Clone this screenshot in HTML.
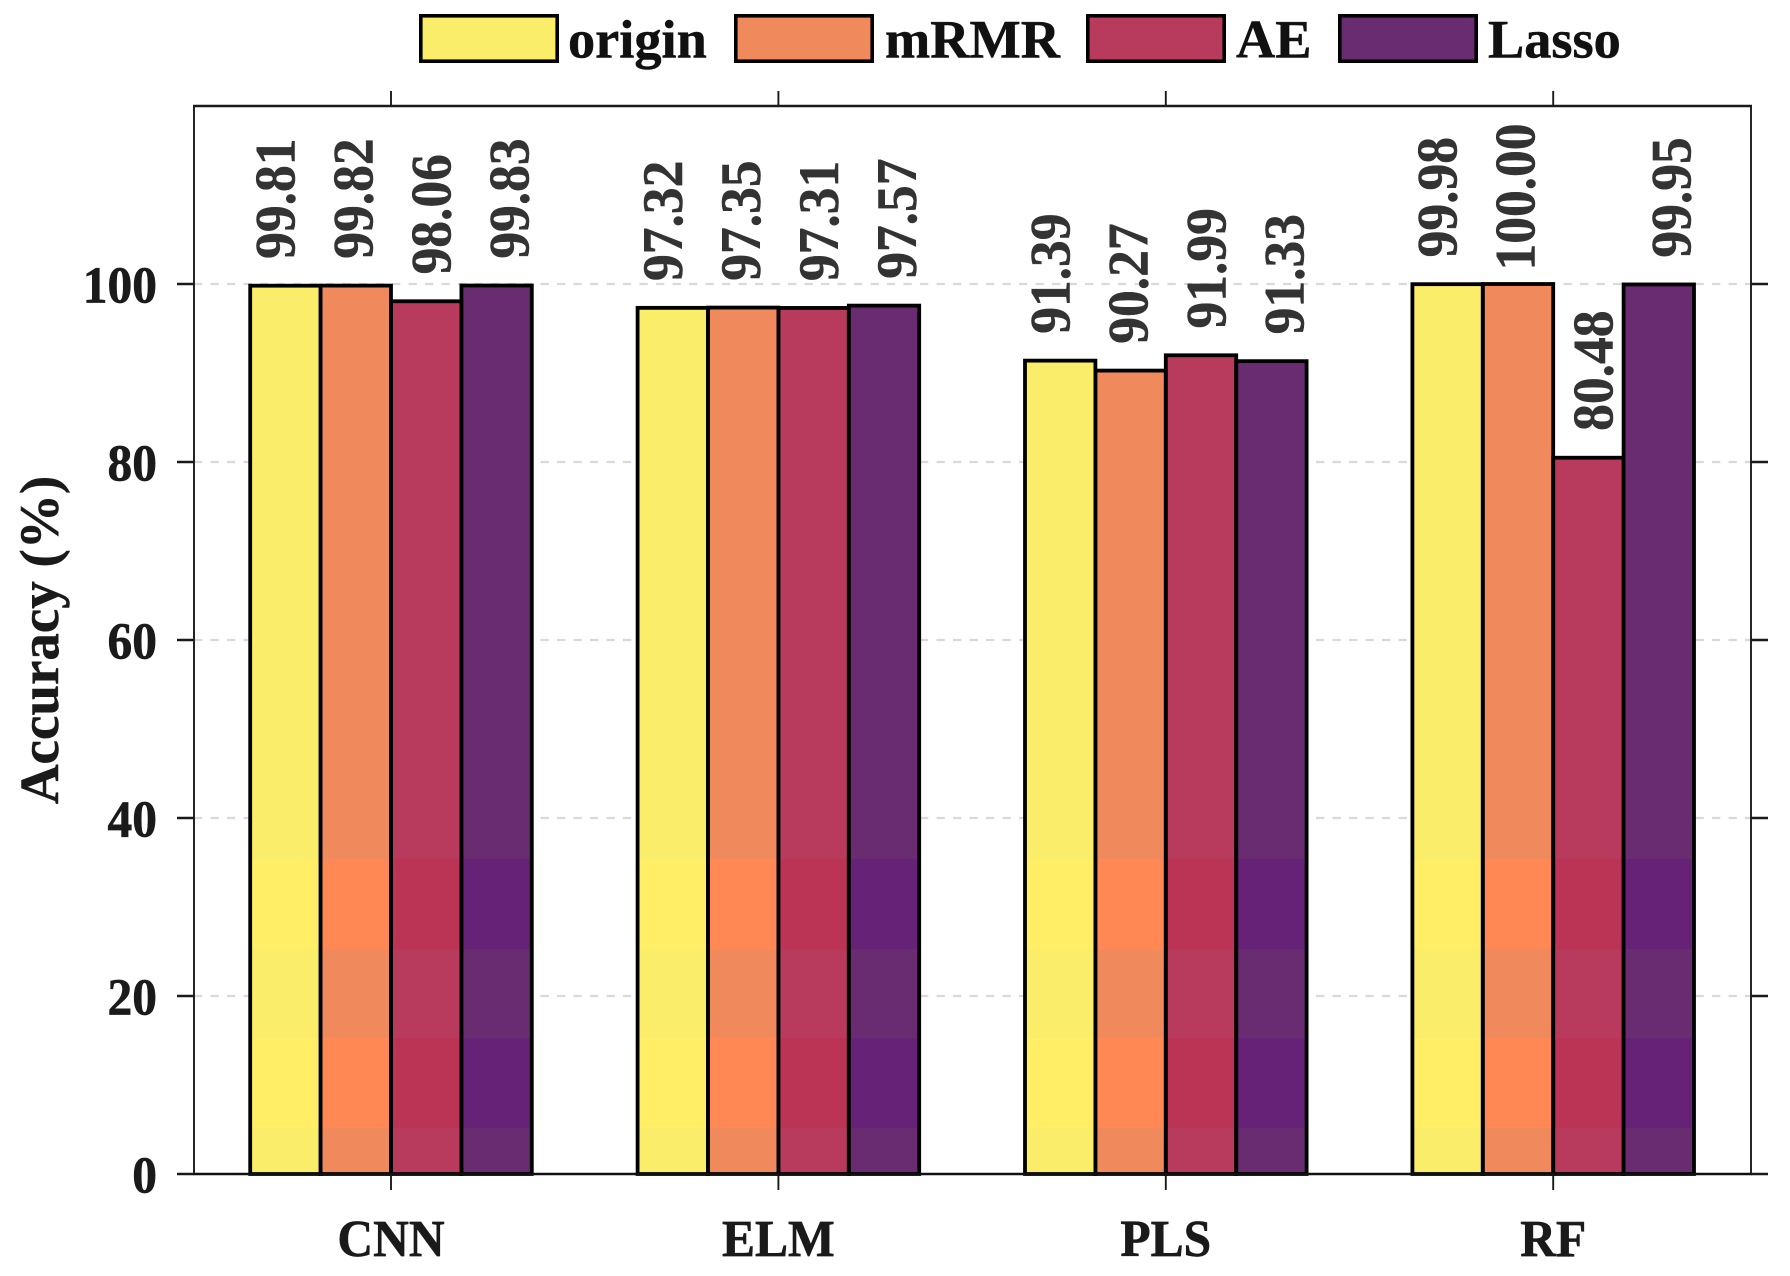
<!DOCTYPE html>
<html lang="en">
<head>
<meta charset="utf-8">
<title>Accuracy bar chart</title>
<style>
html,body{margin:0;padding:0;background:#fff;}
body{width:1790px;height:1276px;overflow:hidden;}
svg{display:block;}
text{font-family:"Liberation Serif",serif;font-weight:bold;}
</style>
</head>
<body>
<svg id="chart" xmlns="http://www.w3.org/2000/svg" width="1790" height="1276" viewBox="0 0 1790 1276"></svg>
<script>
const categories = ["CNN", "ELM", "PLS", "RF"];
const seriesNames = ["origin", "mRMR", "AE", "Lasso"];
const originValues = [99.81, 97.32, 91.39, 99.98];
const mrmrValues = [99.82, 97.35, 90.27, 100.00];
const aeValues = [98.06, 97.31, 91.99, 80.48];
const lassoValues = [99.83, 97.57, 91.33, 99.95];
const yTicks = [0, 20, 40, 60, 80, 100];
const yMin = 0;
const yMax = 120;

const allValues = [originValues, mrmrValues, aeValues, lassoValues];
const fillColors = ["#FAED69", "#F08A5D", "#B83B5E", "#6A2C70"];
const bandColors = ["#FFEE66", "#FF8855", "#BB3355", "#662277"];
const legendSwatchX = [419, 734, 1086, 1338];
const legendTextX = [568, 885, 1236, 1488];

const plot = { left: 194, right: 1751, top: 106, bottom: 1174 };
const groupStart = 391;
const groupStep = 387.4;
const barWidth = 70.4;
const labelStep = 78;
const labelLift = 87;
const bands = [[859, 949], [1038, 1128]];

const svgNS = "http://www.w3.org/2000/svg";
const svg = document.getElementById("chart");

function yScale(v) {
  return plot.bottom - (v - yMin) / (yMax - yMin) * (plot.bottom - plot.top);
}
function xScale(groupIndex) {
  return groupStart + groupStep * groupIndex;
}
function make(tag, attrs, parent) {
  const el = document.createElementNS(svgNS, tag);
  for (const k in attrs) el.setAttribute(k, attrs[k]);
  (parent || svg).appendChild(el);
  return el;
}

// gridlines
yTicks.forEach(function (t) {
  if (t === 0) return;
  const g = make("line", { x1: plot.left, x2: plot.right, y1: yScale(t), y2: yScale(t), stroke: "#d9d9d9", "stroke-width": 2.2, "stroke-dasharray": "8.3 8.2" });
  
  
});

// bars
allValues.forEach(function (values, s) {
  values.forEach(function (v, c) {
    const x = xScale(c) + (s - 2) * barWidth;
    const top = yScale(v);
    const bar = make("rect", { x: x, y: top, width: barWidth, height: plot.bottom - top, fill: fillColors[s] });
    
    
    bands.forEach(function (b, i) {
      const y0 = Math.max(b[0], top);
      const y1 = b[1];
      if (y1 <= y0) return;
      const band = make("rect", { x: x, y: y0, width: barWidth, height: y1 - y0, fill: bandColors[s] });
      
      
    });
  });
});
// bar outlines on top of fills
allValues.forEach(function (values, s) {
  values.forEach(function (v, c) {
    const x = xScale(c) + (s - 2) * barWidth;
    const top = yScale(v);
    const edge = make("rect", { x: x, y: top, width: barWidth, height: plot.bottom - top, fill: "none", stroke: "#000", "stroke-width": 3.8 });
    
    
  });
});

// frame
const frameLeft = make("line", { x1: plot.left, x2: plot.left, y1: plot.top, y2: plot.bottom, stroke: "#1a1a1a", "stroke-width": 1.9 });


const frameRight = make("line", { x1: plot.right, x2: plot.right, y1: plot.top, y2: plot.bottom, stroke: "#1a1a1a", "stroke-width": 1.9 });


const frameTop = make("line", { x1: plot.left - 1, x2: plot.right + 1, y1: plot.top, y2: plot.top, stroke: "#1a1a1a", "stroke-width": 2.6 });


const frameBottom = make("line", { x1: plot.left - 1, x2: plot.right + 1, y1: plot.bottom, y2: plot.bottom, stroke: "#111", "stroke-width": 2.4 });



// y ticks and labels
yTicks.forEach(function (t) {
  const y = yScale(t);
  const tl = make("line", { x1: plot.left - 17, x2: plot.left, y1: y, y2: y, stroke: "#1a1a1a", "stroke-width": 2.6 });
  
  
  const tr = make("line", { x1: plot.right, x2: plot.right + 17, y1: y, y2: y, stroke: "#1a1a1a", "stroke-width": 2.6 });
  
  
  const label = make("text", { transform: "translate(157," + (y + 18.5) + ") scale(1,1.05)", "text-anchor": "end", "font-size": 49.5, fill: "#1a1a1a", stroke: "#1a1a1a", "stroke-width": 0.6 });
  label.textContent = String(t);
  
  
});

// x ticks and labels
categories.forEach(function (name, c) {
  const x = xScale(c);
  const top = make("line", { x1: x, x2: x, y1: plot.top - 15, y2: plot.top, stroke: "#1a1a1a", "stroke-width": 1.9 });
  
  
  const bottom = make("line", { x1: x, x2: x, y1: plot.bottom, y2: plot.bottom + 16, stroke: "#1a1a1a", "stroke-width": 1.9 });
  
  
  const label = make("text", { transform: "translate(" + x + ",1256) scale(1,1.05)", "text-anchor": "middle", "font-size": 49.5, fill: "#1a1a1a", stroke: "#1a1a1a", "stroke-width": 0.6 });
  label.textContent = name;
  
  
});

// value labels
allValues.forEach(function (values, s) {
  values.forEach(function (v, c) {
    const cx = xScale(c) + (s - 1.5) * labelStep + 1;
    const cy = yScale(v) - labelLift;
    const label = make("text", { transform: "translate(" + (cx + 19.5) + "," + cy + ") rotate(-90) scale(1,1.06)", "text-anchor": "middle", "font-size": 53.5, fill: "#333", stroke: "#333", "stroke-width": 0.5 });
    label.textContent = v.toFixed(2);
    
    
  });
});

// y axis title
const yTitle = make("text", { transform: "translate(58,640) rotate(-90)", "text-anchor": "middle", "font-size": 55, fill: "#1a1a1a", stroke: "#1a1a1a", "stroke-width": 0.5 });
yTitle.textContent = "Accuracy (%)";



// legend
seriesNames.forEach(function (name, s) {
  const swatch = make("rect", { x: legendSwatchX[s] + 1.8, y: 15.8, width: 136.4, height: 45.4, fill: fillColors[s], stroke: "#000", "stroke-width": 3.6 });
  
  
  const label = make("text", { x: legendTextX[s], y: 57.5, "font-size": 54.3, fill: "#111", stroke: "#111", "stroke-width": 0.5 });
  label.textContent = name;
  
  
});
</script>
</body>
</html>
